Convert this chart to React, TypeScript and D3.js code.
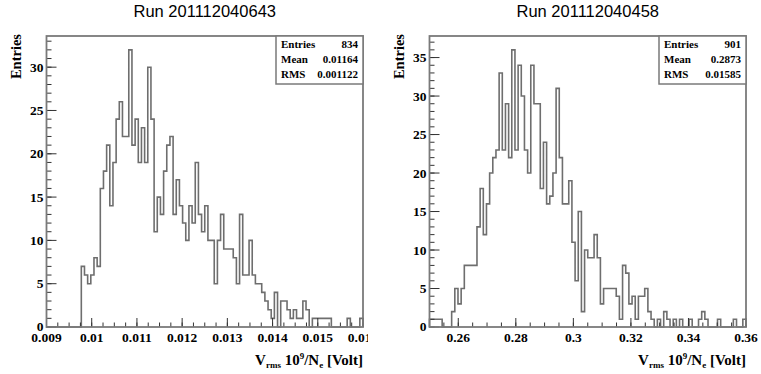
import React from 'react';
import * as d3 from 'd3';

// left histogram: 100 bins on [0.009, 0.016]
const leftTitle = 'Run 201112040643';
const leftDomain = [0.009, 0.016];
const leftCounts = [
  0, 0, 0, 0, 0, 0, 0, 0, 0, 0,
  0, 7, 6, 5, 6, 8, 7, 16, 18, 21,
  14, 19, 24, 26, 22, 22, 32, 21, 24, 19,
  23, 19, 30, 24, 11, 15, 13, 18, 21, 22,
  13, 17, 14, 12, 10, 14, 12, 19, 13, 11,
  14, 10, 10, 5, 10, 13, 9, 9, 9, 8,
  5, 13, 6, 6, 10, 6, 5, 5, 4, 3,
  2, 1, 4, 0, 3, 3, 2, 1, 2, 1,
  1, 3, 2, 0, 1, 1, 1, 1, 1, 1,
  0, 0, 0, 0, 0, 1, 0, 0, 0, 1,
];
const leftXTicks = [0.009, 0.01, 0.011, 0.012, 0.013, 0.014, 0.015, 0.016];
const leftXLabels = ['0.009', '0.01', '0.011', '0.012', '0.013', '0.014', '0.015', '0.016'];
const leftYTicks = [0, 5, 10, 15, 20, 25, 30];
const leftStats = ['834', '0.01164', '0.001122'];

// right histogram: 100 bins on [0.25, 0.36]
const rightTitle = 'Run 201112040458';
const rightDomain = [0.25, 0.36];
const rightCounts = [
  1, 1, 1, 1, 0, 0, 0, 2, 5, 3,
  5, 8, 8, 8, 8, 13, 18, 12, 16, 20,
  22, 23, 33, 23, 29, 22, 36, 23, 34, 30,
  23, 20, 34, 29, 29, 18, 24, 16, 17, 20,
  31, 22, 16, 16, 19, 11, 6, 15, 2, 10,
  9, 9, 12, 9, 3, 5, 5, 5, 5, 4,
  1, 8, 7, 3, 4, 1, 4, 4, 5, 2,
  1, 0, 1, 0, 2, 1, 0, 1, 0, 1,
  0, 0, 1, 0, 0, 1, 2, 1, 0, 0,
  0, 1, 0, 0, 0, 0, 1, 0, 0, 1,
];
const rightXTicks = [0.26, 0.28, 0.3, 0.32, 0.34, 0.36];
const rightXLabels = ['0.26', '0.28', '0.3', '0.32', '0.34', '0.36'];
const rightYTicks = [0, 5, 10, 15, 20, 25, 30, 35];
const rightStats = ['901', '0.2873', '0.01585'];

const statNames = ['Entries', 'Mean', 'RMS'];

const serif = '"Liberation Serif", "DejaVu Serif", serif';
const sans = '"Liberation Sans", Arial, sans-serif';
const frameColor = '#7a7a7a';
const histColor = '#6e6e6e';

type PanelProps = {
  x0: number; x1: number; clipW?: number;
  title: string; domain: number[]; counts: number[];
  xTicks: number[]; xLabels: string[]; minorStep: number;
  yTicks: number[]; stats: string[]; id: string;
};

const Panel = ({ x0, x1, clipW, title, domain, counts, xTicks, xLabels, minorStep, yTicks, stats, id }: PanelProps) => {
  const y0 = 36, y1 = 327;
  const ymax = d3.max(counts)! * 1.05;
  const x = d3.scaleLinear().domain(domain).range([x0, x1]);
  const y = d3.scaleLinear().domain([0, ymax]).range([y1, y0]);
  const n = counts.length;
  const bw = (domain[1] - domain[0]) / n;

  // histogram outline
  let d = `M${x(domain[0])},${y(0)}`;
  counts.forEach((c, i) => {
    d += `L${x(domain[0] + i * bw)},${y(c)}L${x(domain[0] + (i + 1) * bw)},${y(c)}`;
  });
  d += `L${x(domain[1])},${y(0)}`;

  const minorX = d3.range(Math.round((domain[1] - domain[0]) / minorStep) + 1)
    .map(k => domain[0] + k * minorStep);
  const minorY = d3.range(0, Math.floor(ymax) + 1);

  const boxX = x1 - 87, boxY = y0, boxH = 48;

  return (
    <g clipPath={clipW ? `url(#${id})` : undefined}>
      {clipW && (
        <defs>
          <clipPath id={id}><rect x={0} y={0} width={clipW} height={374} /></clipPath>
        </defs>
      )}
      <text x={(x0 + x1) / 2} y={17} textAnchor="middle" fontFamily={sans} fontSize={16.5}>{title}</text>

      <path d={d} fill="none" stroke={histColor} strokeWidth={1.6} />

      {/* ticks */}
      {minorX.map((v, i) => (
        <line key={'mx' + i} x1={x(v)} x2={x(v)} y1={y1} y2={y1 - 4.5} stroke="#333" strokeWidth={1} />
      ))}
      {xTicks.map((v, i) => (
        <line key={'Mx' + i} x1={x(v)} x2={x(v)} y1={y1} y2={y1 - 9} stroke="#333" strokeWidth={1} />
      ))}
      {minorY.map(v => (
        <line key={'my' + v} x1={x0} x2={x0 + 5} y1={y(v)} y2={y(v)} stroke="#333" strokeWidth={1} />
      ))}
      {yTicks.map(v => (
        <line key={'My' + v} x1={x0} x2={x0 + 10} y1={y(v)} y2={y(v)} stroke="#333" strokeWidth={1} />
      ))}

      <rect x={x0} y={y0} width={x1 - x0} height={y1 - y0} fill="none" stroke={frameColor} strokeWidth={1.8} />

      {/* tick labels */}
      {xTicks.map((v, i) => (
        <text key={'lx' + i} x={x(v)} y={341.5} textAnchor="middle" fontFamily={serif} fontWeight="bold" fontSize={13.5}>{xLabels[i]}</text>
      ))}
      {yTicks.map(v => (
        <text key={'ly' + v} x={x0 - 3} y={y(v) + (v === 0 ? 3.5 : 4.5)} textAnchor="end" fontFamily={serif} fontWeight="bold" fontSize={13.5}>{v}</text>
      ))}

      {/* axis titles */}
      <text transform={`translate(${x0 - 26},34) rotate(-90)`} textAnchor="end" fontFamily={serif} fontWeight="bold" fontSize={14.5}>Entries</text>
      <text x={x1} y={365} textAnchor="end" fontFamily={serif} fontWeight="bold" fontSize={15}>
        V<tspan fontSize={9} dy={3}>rms</tspan>
        <tspan dy={-3}> 10</tspan><tspan fontSize={9} dy={-6}>9</tspan>
        <tspan dy={6}>/N</tspan><tspan fontSize={9} dy={3}>e</tspan>
        <tspan dy={-3}> [Volt]</tspan>
      </text>

      {/* stats box */}
      <rect x={boxX} y={boxY} width={x1 - boxX} height={boxH} fill="#fff" stroke={frameColor} strokeWidth={1.5} />
      {statNames.map((s, i) => (
        <g key={s}>
          <text x={boxX + 5} y={boxY + 12 + i * 15} fontFamily={serif} fontWeight="bold" fontSize={11}>{s}</text>
          <text x={x1 - 5} y={boxY + 12 + i * 15} textAnchor="end" fontFamily={serif} fontWeight="bold" fontSize={11}>{stats[i]}</text>
        </g>
      ))}
    </g>
  );
};

export default function App() {
  return (
    <svg width={761} height={374} style={{ position: 'absolute', left: 0, top: 0, background: '#fff' }}>
      <Panel id="clipL" x0={46.5} x1={363} clipW={368} title={leftTitle} domain={leftDomain} counts={leftCounts}
        xTicks={leftXTicks} xLabels={leftXLabels} minorStep={0.00025} yTicks={leftYTicks} stats={leftStats} />
      <Panel id="clipR" x0={429.5} x1={746} title={rightTitle} domain={rightDomain} counts={rightCounts}
        xTicks={rightXTicks} xLabels={rightXLabels} minorStep={0.005} yTicks={rightYTicks} stats={rightStats} />
    </svg>
  );
}
